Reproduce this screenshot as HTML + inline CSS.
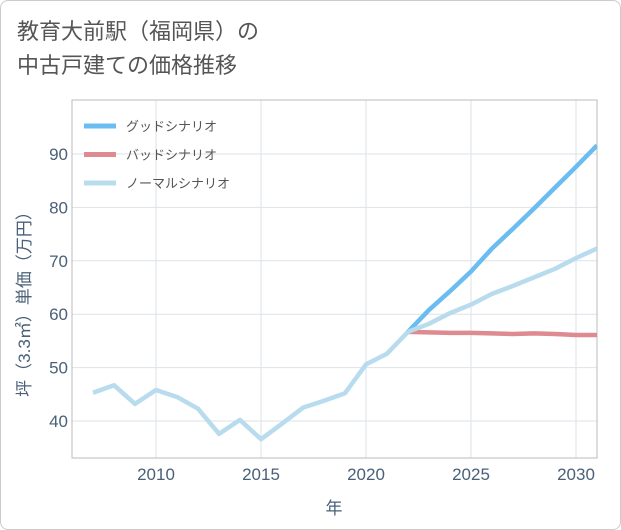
<!DOCTYPE html>
<html><head><meta charset="utf-8"><style>
body{margin:0;background:#fff;}
#wrap{position:relative;width:619px;height:528px;border:1px solid #ccc;border-radius:8px;overflow:hidden;background:#fff;font-family:"Liberation Sans","Noto Sans CJK JP",sans-serif;}
#title{position:absolute;left:16px;top:14px;font-size:22px;line-height:34px;color:#555;}
</style></head><body>
<div id="wrap">
<div id="title">教育大前駅（福岡県）の<br>中古戸建ての価格推移</div>
<svg id="chart" width="621" height="530" style="position:absolute;left:-1px;top:-1px"></svg>
</div>
<script>
const years=[2007,2008,2009,2010,2011,2012,2013,2014,2015,2016,2017,2018,2019,2020,2021,2022];
const histVals=[45.3,46.7,43.2,45.8,44.5,42.3,37.6,40.2,36.6,39.5,42.5,43.8,45.2,50.6,52.6,56.7];
const futYears=[2022,2023,2024,2025,2026,2027,2028,2029,2030,2031];
const goodVals=[56.7,60.8,64.3,68.0,72.3,76.0,79.8,83.7,87.6,91.6];
const badVals=[56.7,56.6,56.5,56.5,56.4,56.3,56.4,56.3,56.1,56.1];
const normalVals=[56.7,58.2,60.2,61.8,63.8,65.3,66.9,68.5,70.5,72.3];
const xTicks=[2010,2015,2020,2025,2030];
const yTicks=[40,50,60,70,80,90];
const legendLabels=["グッドシナリオ","バッドシナリオ","ノーマルシナリオ"];
const NS="http://www.w3.org/2000/svg";
const svg=document.getElementById('chart');
const L=72,R=597,T=100,B=458;
const TC='#4a6078';
const x=y=>156+(y-2010)*21;
const yv=v=>421-(v-40)*5.34;
function el(t,a,p){const e=document.createElementNS(NS,t);for(const k in a)e.setAttribute(k,a[k]);(p||svg).appendChild(e);return e;}
for(const t of xTicks){const g=el('line',{x1:x(t),x2:x(t),y1:T,y2:B,stroke:'#dde3ea','stroke-width':1});


const tx=el('text',{x:x(t),y:B+22,'text-anchor':'middle','font-size':17,fill:TC});tx.textContent=t;

}
for(const t of yTicks){const g=el('line',{x1:L,x2:R,y1:yv(t),y2:yv(t),stroke:'#dde3ea','stroke-width':1});


const tx=el('text',{x:L-4,y:yv(t)+6,'text-anchor':'end','font-size':17,fill:TC});tx.textContent=t;

}
const fr=el('rect',{x:L,y:T,width:R-L,height:B-T,fill:'none',stroke:'#bbb'});


const cp=el('clipPath',{id:'cp'});el('rect',{x:L,y:T,width:R-L,height:B-T},cp);
function line(xs,vs,color,name){const p=el('polyline',{points:xs.map((a,i)=>x(a)+','+yv(vs[i])).join(' '),fill:'none',stroke:color,'stroke-width':4.5,'stroke-linejoin':'round','clip-path':'url(#cp)'});

}
line(futYears,goodVals,'#6bbcf0','good-scenario-line');
line(futYears,badVals,'#dd8a90','bad-scenario-line');
line(futYears,normalVals,'#b8dcee','normal-scenario-line');
line(years,histVals,'#b8dcee','history-line');
const cols=['#6bbcf0','#dd8a90','#b8dcee'];
legendLabels.forEach((s,i)=>{const yy=126+i*28.5;
const l=el('line',{x1:84,x2:116,y1:yy,y2:yy,stroke:cols[i],'stroke-width':5});


const t=el('text',{x:126,y:yy+5,'font-size':13,fill:'#555'});t.textContent=s;

});
const xt=el('text',{x:334,y:514,'text-anchor':'middle','font-size':17,fill:TC});xt.textContent='年';


const yt=el('text',{x:0,y:0,'text-anchor':'middle','font-size':17,fill:TC,transform:'translate(30,300) rotate(-90)'});yt.textContent='坪（3.3㎡）単価（万円）';


</script>
</body></html>
